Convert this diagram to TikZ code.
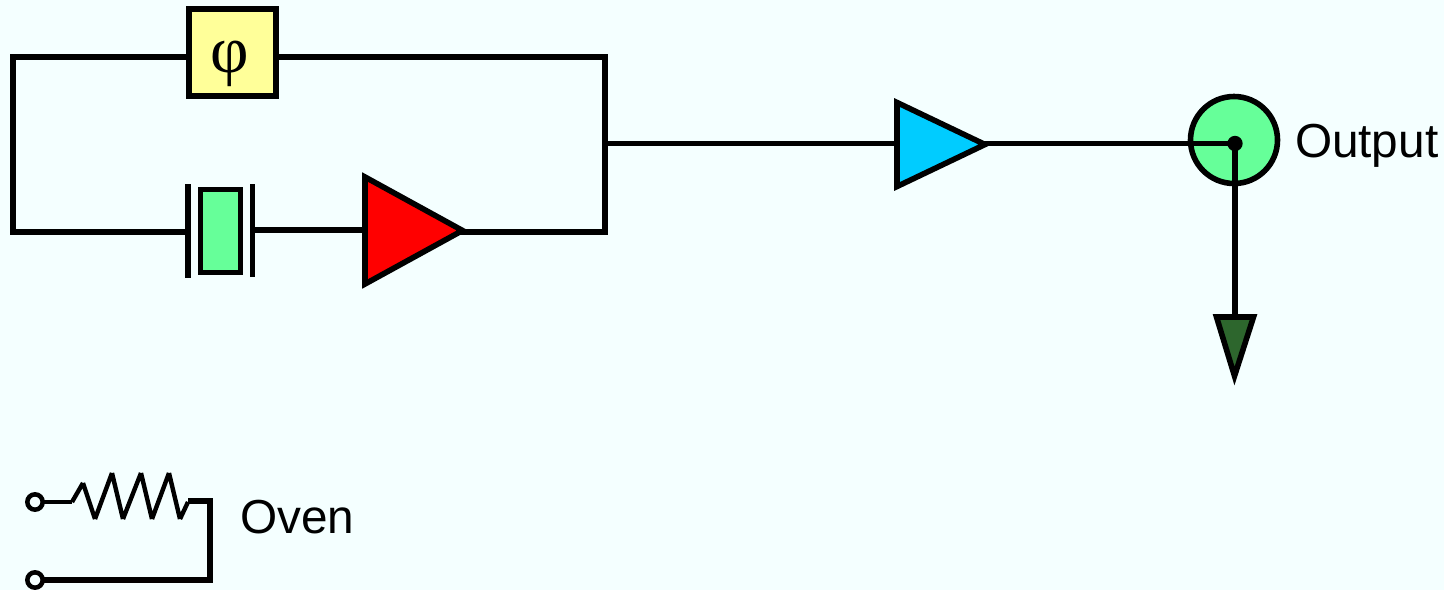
\documentclass[tikz,border=0pt]{standalone}
\usepackage{fontspec}
\setmainfont{Liberation Sans}
\newfontfamily\phifont{Liberation Serif}
\definecolor{bgc}{HTML}{F4FFFF}
\definecolor{yel}{HTML}{FFFF99}
\definecolor{grn}{HTML}{66FF99}
\definecolor{blu}{HTML}{00CCFF}
\definecolor{dgr}{HTML}{2D662D}
\tikzset{
  wire/.style={draw=black,line width=4.2pt,line cap=butt,line join=miter},
  thinwire/.style={draw=black,line width=3.3pt,line cap=square},
  block/.style={wire,rectangle,inner sep=0pt,outer sep=0pt},
  term/.style={draw=black,fill=bgc,line width=3.4pt,circle,inner sep=0pt,outer sep=0pt,minimum size=11.5pt},
  lbl/.style={font=\fontsize{35.8pt}{36pt}\selectfont,inner sep=0pt,outer sep=0pt,anchor=base west},
  amp/.style={wire,line join=miter,miter limit=10},
}
\begin{document}
\begin{tikzpicture}[x=0.75pt,y=-0.75pt]
\useasboundingbox[fill=bgc] (0,0) rectangle (1444,590);
% named points
\coordinate (tl) at (13,57);
\coordinate (bl) at (13,232);
\coordinate (tr) at (605,57);
\coordinate (br) at (605,232);
\coordinate (mid) at (605,143.5);
\coordinate (xtalL) at (188,232);
\coordinate (xtalR) at (252.5,230);
\coordinate (redT) at (365,177);
\coordinate (redB) at (365,284);
\coordinate (redin) at (365,230);
\coordinate (redtip) at (462.5,230.5);
\coordinate (redout) at (459,232);
\coordinate (bluT) at (897,102.5);
\coordinate (bluB) at (897,186.5);
\coordinate (bluin) at (897,143.5);
\coordinate (blutip) at (985,144.5);
\coordinate (bluout) at (982,143.5);
\coordinate (gndL) at (1216.5,317);
\coordinate (gndR) at (1253.5,317);
\coordinate (gndtip) at (1234.5,376);
\coordinate (gndin) at (1235,317);
\coordinate (ovenR) at (210,501);
\coordinate (ovenB) at (210,580);
% phase shifter
\node[block,fill=yel,minimum width=65.25pt,minimum height=65.25pt] (phi) at (232.5,52.5) {};
\node[font=\fontsize{50pt}{50pt}\phifont,inner sep=0pt] (phisym) at (229.5,64) {φ};
% wires of the loop
\draw[wire,line cap=square] (phi.west |- tl) -- (tl) -- (bl) -- (xtalL);
\draw[wire] (phi.east |- tr) -- (tr) -- (br) -- (redout);
\draw[wire] (xtalR) -- (redin);
\draw[wire] (mid) -- (bluin);
% crystal
\node[block,fill=grn,minimum width=30pt,minimum height=62pt] (xtal) at (220.5,231) {};
\draw[wire] (188,184) -- (188,278);
\draw[wire] (252.5,184) -- (252.5,277);
% amplifiers
\draw[amp,fill=red] (redT) -- (redtip) -- (redB) -- cycle;
\draw[amp,fill=blu] (bluT) -- (blutip) -- (bluB) -- cycle;
% output
\node[wire,circle,fill=grn,inner sep=0pt,outer sep=0pt,minimum size=65.25pt] (out) at (1234,140) {};
\node[circle,fill=black,inner sep=0pt,outer sep=0pt,minimum size=11.5pt] (dot) at (1235,143.5) {};
\draw[wire] (bluout) -- (dot.center);
\draw[wire] (dot.center) -- (gndin);
\draw[amp,fill=dgr] (gndL) -- (gndR) -- (gndtip) -- cycle;
\node[lbl] (outlbl) at (1295,157) {Output};
% oven
\node[term] (t1) at (35,502) {};
\node[term] (t2) at (35,580) {};
\draw[wire,line width=3.3pt] (t1) -- (72,502);
\draw[thinwire] (72,502) -- (83,483) (83,483) -- (95,519) (95,519) -- (112,473) (112,473) -- (123,519) (123,519) -- (141,473) (141,473) -- (152,519) (152,519) -- (169,473) (169,473) -- (180,519) (180,519) -- (188,502);
\draw[wire] (188,501) -- (ovenR) -- (ovenB) -- (t2);
\node[lbl] (ovenlbl) at (240,533) {Oven};
\end{tikzpicture}
\end{document}
